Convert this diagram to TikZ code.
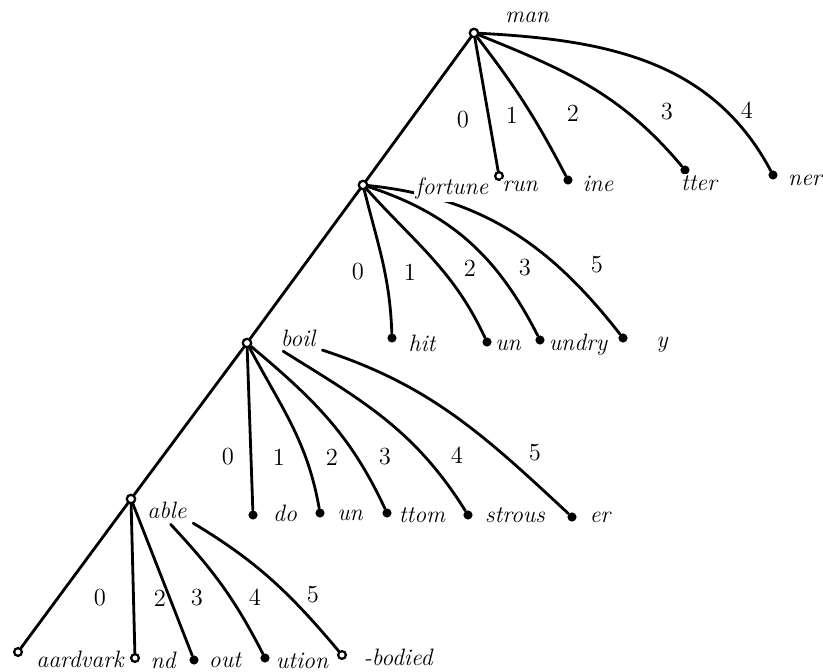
\documentclass[tikz,border=0pt]{standalone}
\usepackage{tikz}
\usetikzlibrary{positioning, backgrounds}

\tikzset{
  trienode/.style={circle, draw, line width=1.3pt, fill=white, minimum size=4.8pt, inner sep=0pt},
  openleaf/.style={circle, draw, line width=1.3pt, fill=white, minimum size=4.4pt, inner sep=0pt},
  fullleaf/.style={circle, fill, minimum size=5.2pt, inner sep=0pt},
  wordlbl/.style={font=\fontsize{13.5}{15}\selectfont\itshape, fill=white, inner sep=1pt},
  digit/.style={font=\fontsize{14}{16}\selectfont, inner sep=1pt},
  branch/.style={line width=1.6pt, line cap=round},
}

\begin{document}
\begin{tikzpicture}[x=0.02cm, y=0.02cm]
  \useasboundingbox (0,0) rectangle (823,-672);
  % the four inner nodes of the trie
  \node[trienode] (man)  at (474,-33)  {};
  \node[trienode] (fort) at (363,-185) {};
  \node[trienode] (boil) at (247,-343) {};
  \node[trienode] (able) at (131,-499) {};
  \node[wordlbl] (wman)  at (527,-17)  {man};
  \node[wordlbl] (wfort) at (452,-189) {fortune};
  \node[wordlbl] (wboil) at (298,-338) {boil};
  \node[wordlbl] (wable) at (167,-510) {able};
  % leaves below man
  \node[openleaf] (lrun)  at (499,-176) {};
  \node[fullleaf] (line)  at (568,-180) {};
  \node[fullleaf] (ltter) at (685,-170) {};
  \node[fullleaf] (lner)  at (773,-175) {};
  \node[wordlbl] (wrun)  at (520,-186) {run};
  \node[wordlbl] (wine)  at (598,-184) {ine};
  \node[wordlbl] (wtter) at (699,-183) {tter};
  \node[wordlbl] (wner)  at (805,-180) {ner};
  % leaves below fortune
  \node[fullleaf] (lhit)   at (392,-338) {};
  \node[fullleaf] (lunf)   at (487,-342) {};
  \node[fullleaf] (lundry) at (540,-340) {};
  \node[fullleaf] (ly)     at (623,-338) {};
  \node[wordlbl] (whit)   at (422,-343) {hit};
  \node[wordlbl] (wunf)   at (508,-345) {un};
  \node[wordlbl] (wundry) at (578,-345) {undry};
  \node[wordlbl] (wy)     at (662,-345) {y};
  % leaves below boil
  \node[fullleaf] (ldo)     at (253,-515) {};
  \node[fullleaf] (lunb)    at (320,-513) {};
  \node[fullleaf] (lttom)   at (387,-513) {};
  \node[fullleaf] (lstrous) at (468,-515) {};
  \node[fullleaf] (ler)     at (572,-517) {};
  \node[wordlbl] (wdo)     at (285,-513) {do};
  \node[wordlbl] (wunb)    at (350,-515) {un};
  \node[wordlbl] (wttom)   at (422,-515) {ttom};
  \node[wordlbl] (wstrous) at (515,-515) {strous};
  \node[wordlbl] (wer)     at (600,-517) {er};
  % leaves below able
  \node[openleaf] (laard)   at (18,-652)  {};
  \node[openleaf] (lnd)     at (135,-658) {};
  \node[fullleaf] (lout)    at (194,-660) {};
  \node[fullleaf] (lution)  at (265,-658) {};
  \node[openleaf] (lbodied) at (342,-655) {};
  \node[wordlbl] (waard)   at (80,-659)  {aardvark};
  \node[wordlbl] (wnd)     at (163,-660) {nd};
  \node[wordlbl] (wout)    at (225,-660) {out};
  \node[wordlbl] (wution)  at (302,-661) {ution};
  \node[wordlbl] (wbodied) at (398,-657) {-bodied};
  % branch digits
  \foreach \d/\x/\y in {0/463/120, 1/512/115, 2/573/113, 3/667/112, 4/747/110}
    \node[digit] (dm\d) at (\x,-\y) {\d};
  \foreach \d/\x/\y in {0/358/272, 1/410/272, 2/470/268, 3/525/268, 5/597/265}
    \node[digit] (df\d) at (\x,-\y) {\d};
  \foreach \d/\x/\y in {0/228/457, 1/279/457, 2/332/457, 3/385/457, 4/457/455, 5/535/453}
    \node[digit] (db\d) at (\x,-\y) {\d};
  \foreach \d/\x/\y in {0/100/598, 2/160/598, 3/197/598, 4/255/597, 5/313/595}
    \node[digit] (da\d) at (\x,-\y) {\d};
  % branches, behind the words
  \begin{scope}[on background layer]
    \draw[branch] (man) -- (fort);
    \draw[branch] (man) -- (lrun);
    \draw[branch] (man) to[bend left=5] (line);
    \draw[branch] (man) to[out=-22, in=130] (ltter);
    \draw[branch] (man) to[out=-3, in=118] (lner);
    \draw[branch] (fort) -- (boil);
    \draw[branch] (fort) to[out=-76, in=92] (lhit);
    \draw[branch] (fort) to[out=-48, in=115] (lunf);
    \draw[branch] (fort) to[out=-18, in=117] (lundry);
    \draw[branch] (fort) to[out=-6, in=128] (ly);
    \draw[branch] (boil) -- (able);
    \draw[branch] (boil) -- (ldo);
    \draw[branch] (boil) to[out=-62, in=100] (lunb);
    \draw[branch] (boil) to[out=-40, in=115] (lttom);
    \draw[branch, shorten <=3pt] (wboil.south west) to[out=-32, in=122] (lstrous);
    \draw[branch, shorten <=3pt] (wboil.south east) to[out=-18, in=137] (ler);
    \draw[branch] (able) -- (laard);
    \draw[branch] (able) -- (lnd);
    \draw[branch] (able) -- (lout);
    \draw[branch, shorten <=3pt] (wable.south) to[out=-47, in=117] (lution);
    \draw[branch, shorten <=3pt] (wable.south east) to[out=-31, in=130] (lbodied);
  \end{scope}
\end{tikzpicture}
\end{document}
